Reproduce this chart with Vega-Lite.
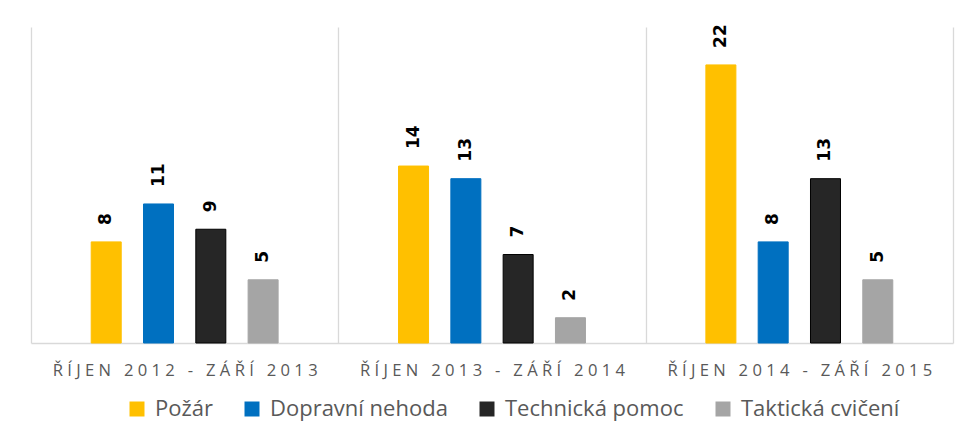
{
  "$schema": "https://vega.github.io/schema/vega-lite/v6.json",
  "width": 922,
  "height": 316,
  "autosize": {"type": "none"},
  "padding": {"left": 31, "top": 27, "right": 20, "bottom": 87},
  "background": "white",
  "config": {"view": {"stroke": null}, "font": "Open Sans"},
  "data": {
    "values": [
      {"period": "ŘÍJEN 2012 - ZÁŘÍ 2013", "type": "Požár", "value": 8},
      {"period": "ŘÍJEN 2012 - ZÁŘÍ 2013", "type": "Dopravní nehoda", "value": 11},
      {"period": "ŘÍJEN 2012 - ZÁŘÍ 2013", "type": "Technická pomoc", "value": 9},
      {"period": "ŘÍJEN 2012 - ZÁŘÍ 2013", "type": "Taktická cvičení", "value": 5},
      {"period": "ŘÍJEN 2013 - ZÁŘÍ 2014", "type": "Požár", "value": 14},
      {"period": "ŘÍJEN 2013 - ZÁŘÍ 2014", "type": "Dopravní nehoda", "value": 13},
      {"period": "ŘÍJEN 2013 - ZÁŘÍ 2014", "type": "Technická pomoc", "value": 7},
      {"period": "ŘÍJEN 2013 - ZÁŘÍ 2014", "type": "Taktická cvičení", "value": 2},
      {"period": "ŘÍJEN 2014 - ZÁŘÍ 2015", "type": "Požár", "value": 22},
      {"period": "ŘÍJEN 2014 - ZÁŘÍ 2015", "type": "Dopravní nehoda", "value": 8},
      {"period": "ŘÍJEN 2014 - ZÁŘÍ 2015", "type": "Technická pomoc", "value": 13},
      {"period": "ŘÍJEN 2014 - ZÁŘÍ 2015", "type": "Taktická cvičení", "value": 5}
    ]
  },
  "encoding": {
    "x": {
      "field": "period",
      "type": "nominal",
      "sort": null,
      "scale": {"paddingInner": 0, "paddingOuter": 0},
      "axis": {
        "title": null,
        "labelAngle": 0,
        "tickBand": "extent",
        "grid": true,
        "gridColor": "#d9d9d9",
        "gridWidth": 1.3,
        "ticks": false,
        "domainColor": "#d9d9d9",
        "domainWidth": 1.3,
        "labelFont": "Open Sans",
        "labelFontSize": 16.6,
        "labelColor": "#595959",
        "labelPadding": 19,
        "labelLimit": 0,
        "labelExpr": "join(split(datum.label, ''), '\u00a0')"
      }
    },
    "xOffset": {
      "field": "type",
      "type": "nominal",
      "scale": {
        "domain": ["Požár", "Dopravní nehoda", "Technická pomoc", "Taktická cvičení"],
        "paddingInner": 0.124,
        "paddingOuter": 1
      }
    },
    "y": {
      "field": "value",
      "type": "quantitative",
      "scale": {"domain": [0, 25]},
      "axis": null
    }
  },
  "layer": [
    {
      "mark": {"type": "bar", "strokeWidth": 1, "width": 30},
      "encoding": {
        "color": {
          "field": "type",
          "type": "nominal",
          "scale": {
            "domain": ["Požár", "Dopravní nehoda", "Technická pomoc", "Taktická cvičení"],
            "range": ["#FFC000", "#0070C0", "#262626", "#A5A5A5"]
          },
          "legend": {
            "orient": "none",
            "legendX": 95,
            "legendY": 371,
            "direction": "horizontal",
            "title": null,
            "symbolType": "square",
            "symbolSize": 225,
            "symbolStrokeWidth": 0,
            "labelFont": "Open Sans",
            "labelFontSize": 22,
            "labelColor": "#595959",
            "labelLimit": 0,
            "columnPadding": 28,
            "labelOffset": 7
          }
        },
        "stroke": {
          "field": "type",
          "type": "nominal",
          "scale": {
            "domain": ["Požár", "Dopravní nehoda", "Technická pomoc", "Taktická cvičení"],
            "range": ["#FFC000", "#0070C0", "#000000", "#A5A5A5"]
          },
          "legend": null
        }
      }
    },
    {
      "mark": {
        "type": "text",
        "angle": 270,
        "align": "left",
        "baseline": "middle",
        "dx": 17,
        "font": "DejaVu Sans",
        "fontWeight": "bold",
        "fontSize": 17,
        "color": "black"
      },
      "encoding": {"text": {"field": "value", "type": "quantitative"}}
    }
  ]
}
